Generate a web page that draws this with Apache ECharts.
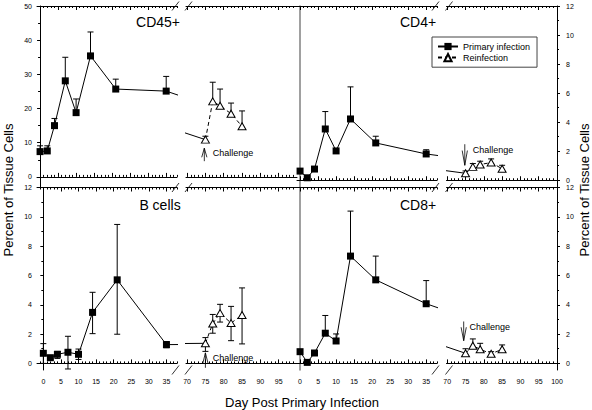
<!DOCTYPE html>
<html>
<head>
<meta charset="utf-8">
<script src="https://cdn.jsdelivr.net/npm/echarts@6/dist/echarts.min.js"></script>
<style>
html,body{margin:0;padding:0;background:#fff;}
#chart{width:592px;height:410px;}
</style>
</head>
<body>
<div id="chart"></div>
<script>
const FONT = 'Liberation Sans, Arial, Helvetica, sans-serif';

// ---------------- DATA ----------------
const panelTitles = ['CD45+', 'CD4+', 'B cells', 'CD8+'];
const seriesNames = ['Primary infection', 'Reinfection'];
const challengeLabel = 'Challenge';
const xTitle = 'Day Post Primary Infection';
const yTitle = 'Percent of Tissue Cells';

const primaryDays = [0, 2, 4, 7, 10, 14, 21, 35];
const reinfectionDays = [75, 77, 79, 82, 85];

// CD45+
const cd45PrimaryMean  = [7.4, 7.6, 15.0, 28.1, 18.8, 35.4, 25.7, 25.1];
const cd45PrimaryUpper = [9.1, 9.1, 17.1, 35.0, 22.8, 42.4, 28.6, 29.4];
const cd45ReinfMean    = [10.9, 22.1, 20.8, 18.5, 14.8];
const cd45ReinfUpper   = [11.9, 27.7, 25.7, 21.6, 19.3];
// CD4+
const cd4PrimaryMean  = [0.63, 0.17, 0.77, 3.53, 2.02, 4.22, 2.57, 1.81];
const cd4PrimaryUpper = [0.63, 0.17, 0.77, 4.73, 2.02, 6.43, 3.03, 2.10];
const cd4ReinfMean    = [0.48, 0.92, 1.08, 1.22, 0.79];
const cd4ReinfUpper   = [0.64, 1.15, 1.31, 1.47, 1.03];
// B cells
const bPrimaryMean  = [0.69, 0.39, 0.62, 0.76, 0.62, 3.48, 5.70, 1.28];
const bPrimaryUpper = [1.35, 0.49, 0.82, 1.85, 0.98, 4.85, 9.48, 1.49];
const bPrimaryLower = [0.00, 0.29, 0.34, -0.38, 0.27, 2.03, 1.99, 1.07];
const bReinfMean    = [1.37, 2.72, 3.43, 2.75, 3.30];
const bReinfUpper   = [1.76, 3.34, 4.03, 3.89, 5.15];
const bReinfLower   = [0.82, 2.06, 2.82, 1.55, 1.33];
// CD8+
const cd8PrimaryMean  = [0.80, 0.07, 0.71, 2.06, 1.53, 7.32, 5.70, 4.07];
const cd8PrimaryUpper = [0.80, 0.07, 0.71, 3.27, 2.01, 10.39, 7.32, 5.65];
const cd8ReinfMean    = [0.69, 1.21, 0.96, 0.66, 0.96];
const cd8ReinfUpper   = [1.00, 1.67, 1.37, 0.80, 1.26];

// Challenge arrows: [day, tip value, tail value, label day, label value]
const cd45Challenge = [74.7, 8.4, 4.6, 77.0, 6.9];
const cd4Challenge  = [74.8, 1.03, 2.48, 77.0, 2.07];
const bChallenge    = [75.0, 0.72, -0.30, 77.0, 0.34];
const cd8Challenge  = [74.5, 1.55, 2.86, 76.1, 2.45];

// Tick labels
const xTicksEarly = [0, 5, 10, 15, 20, 25, 30, 35];
const xTicksLateLeft = [70, 75, 80, 85, 90, 95];
const xTicksLateRight = [70, 75, 80, 85, 90, 95, 100];
const yTicksCD45 = [0, 10, 20, 30, 40, 50];
const yMinorCD45 = [5, 15, 25, 35, 45];
const yTicks12 = [0, 2, 4, 6, 8, 10, 12];
const yMinor12 = [1, 3, 5, 7, 9, 11];

// ---------------- LAYOUT ----------------
const ROW_Y = [[6, 187.5], [187.5, 370]];
const COL_X = [
  { seg1: [37, 177], seg2: [186, 297] },
  { seg1: [297, 437], seg2: [446.5, 557] }
];

const panels = [
  { title: panelTitles[0], row: 0, col: 0, r1: [-0.85, 38], r2: [69.7, 100], yr: [-3.1, 50],
    yMaj: yTicksCD45, yMin: yMinorCD45, pM: cd45PrimaryMean, pU: cd45PrimaryUpper, pL: null,
    rM: cd45ReinfMean, rU: cd45ReinfUpper, rL: null, ch: cd45Challenge, tpos: [158, 22] },
  { title: panelTitles[1], row: 0, col: 1, r1: [-0.85, 38], r2: [69.8, 100], yr: [-0.5, 12],
    yMaj: yTicks12, yMin: yMinor12, pM: cd4PrimaryMean, pU: cd4PrimaryUpper, pL: null,
    rM: cd4ReinfMean, rU: cd4ReinfUpper, rL: null, ch: cd4Challenge, tpos: [418, 22] },
  { title: panelTitles[2], row: 1, col: 0, r1: [-1.8, 38], r2: [69.7, 100], yr: [-0.45, 12],
    yMaj: yTicks12, yMin: yMinor12, pM: bPrimaryMean, pU: bPrimaryUpper, pL: bPrimaryLower,
    rM: bReinfMean, rU: bReinfUpper, rL: bReinfLower, ch: bChallenge, tpos: [160, 205] },
  { title: panelTitles[3], row: 1, col: 1, r1: [-0.85, 38], r2: [69.8, 100], yr: [-0.45, 12],
    yMaj: yTicks12, yMin: yMinor12, pM: cd8PrimaryMean, pU: cd8PrimaryUpper, pL: null,
    rM: cd8ReinfMean, rU: cd8ReinfUpper, rL: null, ch: cd8Challenge, tpos: [418, 205] }
];

const CAP = 3;
const grids = [], xAxes = [], yAxes = [], series = [], graphic = [];

function xAxesFor(gi, range, majors, showLabels) {
  const minors = [];
  for (let d = Math.ceil(range[0]); d <= Math.floor(range[1]); d++) if (d % 5 !== 0) minors.push(d);
  const base = { type: 'value', gridIndex: gi, min: range[0], max: range[1], splitLine: { show: false } };
  const line = { show: true, lineStyle: { color: '#000', width: 1 } };
  const tickStyle = { color: '#000', width: 1 };
  return [
    Object.assign({}, base, { position: 'bottom', axisLine: line,
      axisTick: { show: true, inside: true, length: 4, customValues: majors, lineStyle: tickStyle },
      axisLabel: { show: showLabels, customValues: majors, fontSize: 7, fontFamily: FONT, color: '#000', margin: 8 } }),
    Object.assign({}, base, { position: 'bottom', axisLine: { show: false },
      axisTick: { show: true, inside: true, length: 2, customValues: minors, lineStyle: tickStyle },
      axisLabel: { show: false } }),
    Object.assign({}, base, { position: 'top', axisLine: line,
      axisTick: { show: true, inside: true, length: 4, customValues: majors, lineStyle: tickStyle },
      axisLabel: { show: false } }),
    Object.assign({}, base, { position: 'top', axisLine: { show: false },
      axisTick: { show: true, inside: true, length: 2, customValues: minors, lineStyle: tickStyle },
      axisLabel: { show: false } })
  ];
}

function yAxesFor(gi, range, pos, kind, majors, minors, margin) {
  const base = { type: 'value', gridIndex: gi, min: range[0], max: range[1], position: pos, splitLine: { show: false } };
  if (kind === 'main') {
    return [
      Object.assign({}, base, { axisLine: { show: true, lineStyle: { color: '#000', width: 1 } },
        axisTick: { show: true, inside: false, length: 3, customValues: majors, lineStyle: { color: '#000', width: 1 } },
        axisLabel: { show: true, customValues: majors, fontSize: 7, fontFamily: FONT, color: '#000', margin: margin } }),
      Object.assign({}, base, { axisLine: { show: false },
        axisTick: { show: true, inside: false, length: 2, customValues: minors, lineStyle: { color: '#000', width: 1 } },
        axisLabel: { show: false } })
    ];
  }
  if (kind === 'divider') {
    return [
      Object.assign({}, base, { axisLine: { show: true, lineStyle: { color: '#808080', width: 1.5 } },
        axisTick: { show: false }, axisLabel: { show: false } }),
      Object.assign({}, base, { show: false })
    ];
  }
  return [
    Object.assign({}, base, { axisLine: { show: false }, axisTick: { show: false }, axisLabel: { show: false } }),
    Object.assign({}, base, { show: false })
  ];
}

function renderErrorBar(params, api) {
  const x = api.value(0), y = api.value(1), lo = api.value(2), hi = api.value(3);
  const c = api.coord([x, y]);
  const pHi = api.coord([x, hi]);
  const pLo = api.coord([x, lo]);
  const st = { stroke: '#000', lineWidth: 1 };
  const children = [];
  if (hi > y || lo < y) {
    children.push({ type: 'line', shape: { x1: c[0], y1: pHi[1], x2: c[0], y2: pLo[1] }, style: st });
  }
  if (hi > y) children.push({ type: 'line', shape: { x1: c[0] - CAP, y1: pHi[1], x2: c[0] + CAP, y2: pHi[1] }, style: st });
  if (lo < y) children.push({ type: 'line', shape: { x1: c[0] - CAP, y1: pLo[1], x2: c[0] + CAP, y2: pLo[1] }, style: st });
  return { type: 'group', children: children };
}

function renderChallenge(params, api) {
  const x = api.value(0);
  const tip = api.coord([x, api.value(1)]);
  const tail = api.coord([x, api.value(2)]);
  const lab = api.coord([api.value(3), api.value(4)]);
  const len = tail[1] - tip[1];
  const head = len * 0.7;
  const st = { stroke: '#000', lineWidth: 0.8 };
  return {
    type: 'group',
    children: [
      { type: 'line', shape: { x1: tail[0], y1: tail[1], x2: tip[0], y2: tip[1] }, style: st },
      { type: 'line', shape: { x1: tip[0], y1: tip[1], x2: tip[0] - 2.6, y2: tip[1] + head }, style: st },
      { type: 'line', shape: { x1: tip[0], y1: tip[1], x2: tip[0] + 2.6, y2: tip[1] + head }, style: st },
      { type: 'text', x: lab[0], y: lab[1],
        style: { text: challengeLabel, fill: '#000', fontSize: 9, fontFamily: FONT,
                 textAlign: 'left', verticalAlign: 'middle', textVerticalAlign: 'middle' } }
    ]
  };
}

panels.forEach(function (p, pi) {
  const ry = ROW_Y[p.row];
  const cx = COL_X[p.col];
  const g1 = pi * 2, g2 = pi * 2 + 1;
  [[cx.seg1, g1], [cx.seg2, g2]].forEach(function (s) {
    grids[s[1]] = { left: s[0][0], top: ry[0], width: s[0][1] - s[0][0], height: ry[1] - ry[0],
      show: false, containLabel: false, outerBoundsMode: 'none' };
  });
  const showX = p.row === 1;
  const lateTicks = p.col === 0 ? xTicksLateLeft : xTicksLateRight;
  xAxes.push.apply(xAxes, xAxesFor(g1, p.r1, xTicksEarly, showX));
  xAxes.push.apply(xAxes, xAxesFor(g2, p.r2, lateTicks, showX));
  if (p.col === 0) {
    yAxes.push.apply(yAxes, yAxesFor(g1, p.yr, 'left', 'main', p.yMaj, p.yMin, 5));
    yAxes.push.apply(yAxes, yAxesFor(g2, p.yr, 'right', 'hidden'));
  } else {
    yAxes.push.apply(yAxes, yAxesFor(g1, p.yr, 'left', 'divider'));
    yAxes.push.apply(yAxes, yAxesFor(g2, p.yr, 'right', 'main', p.yMaj, p.yMin, 9));
  }
  const x1 = g1 * 4, x2 = g2 * 4, y1 = g1 * 2, y2 = g2 * 2;

  // primary line data continues to the challenge point (drawn through the break)
  const primLine = primaryDays.map(function (d, i) { return [d, p.pM[i]]; });
  primLine.push({ value: [reinfectionDays[0], p.rM[0]], symbol: 'none' });
  const primErr = primaryDays.map(function (d, i) {
    return [d, p.pM[i], p.pL ? p.pL[i] : p.pM[i], p.pU[i]];
  });
  const reLine = reinfectionDays.map(function (d, i) { return [d, p.rM[i]]; });
  const reErr = reinfectionDays.map(function (d, i) {
    return [d, p.rM[i], p.rL ? p.rL[i] : p.rM[i], p.rU[i]];
  });

  series.push({ type: 'custom', xAxisIndex: x1, yAxisIndex: y1, z: 1, renderItem: renderErrorBar,
    encode: { x: 0, y: 1 }, data: primErr, silent: true });
  series.push({ type: 'line', name: seriesNames[0], xAxisIndex: x1, yAxisIndex: y1, z: 3, data: primLine,
    symbol: 'rect', symbolSize: 7, itemStyle: { color: '#000' }, lineStyle: { color: '#000', width: 1 },
    clip: true, silent: true });
  series.push({ type: 'line', name: seriesNames[0], xAxisIndex: x2, yAxisIndex: y2, z: 3, data: primLine,
    showSymbol: false, symbol: 'rect', symbolSize: 7, itemStyle: { color: '#000' },
    lineStyle: { color: '#000', width: 1 }, clip: true, silent: true });
  series.push({ type: 'custom', xAxisIndex: x2, yAxisIndex: y2, z: 1, renderItem: renderErrorBar,
    encode: { x: 0, y: 1 }, data: reErr, silent: true });
  series.push({ type: 'line', name: seriesNames[1], xAxisIndex: x2, yAxisIndex: y2, z: 4, data: reLine,
    symbol: 'triangle', symbolSize: [8, 7],
    itemStyle: { color: '#fff', borderColor: '#000', borderWidth: 1 },
    lineStyle: { color: '#000', width: 1, type: [4, 3] }, clip: true, silent: true });
  series.push({ type: 'custom', xAxisIndex: x2, yAxisIndex: y2, z: 2, renderItem: renderChallenge,
    encode: { x: 0, y: 1 }, data: [p.ch], silent: true, clip: false });

  graphic.push({ type: 'text', x: p.tpos[0], y: p.tpos[1], silent: true,
    style: { text: p.title, fill: '#000', fontSize: 14, fontFamily: FONT, textAlign: 'center',
             verticalAlign: 'middle', textVerticalAlign: 'middle' } });
});

// axis break slashes on every horizontal edge
[6, 187.5, 370].forEach(function (y) {
  COL_X.forEach(function (c) {
    [c.seg1[1] - 1.5, c.seg2[0] + 2.5].forEach(function (x) {
      graphic.push({ type: 'line', silent: true,
        shape: { x1: x - 3.5, y1: y + 4.5, x2: x + 3.5, y2: y - 4.5 },
        style: { stroke: '#000', lineWidth: 0.8 } });
    });
  });
});

graphic.push({ type: 'text', x: 302, y: 402, silent: true,
  style: { text: xTitle, fill: '#000', fontSize: 13, fontFamily: FONT, textAlign: 'center',
           verticalAlign: 'middle', textVerticalAlign: 'middle' } });
graphic.push({ type: 'text', x: 8, y: 190, rotation: Math.PI / 2, silent: true,
  style: { text: yTitle, fill: '#000', fontSize: 13, fontFamily: FONT, textAlign: 'center',
           verticalAlign: 'middle', textVerticalAlign: 'middle' } });
graphic.push({ type: 'text', x: 584, y: 190, rotation: Math.PI / 2, silent: true,
  style: { text: yTitle, fill: '#000', fontSize: 13, fontFamily: FONT, textAlign: 'center',
           verticalAlign: 'middle', textVerticalAlign: 'middle' } });

const option = {
  animation: false,
  backgroundColor: '#fff',
  grid: grids,
  xAxis: xAxes,
  yAxis: yAxes,
  series: series,
  graphic: graphic,
  legend: {
    data: seriesNames,
    orient: 'vertical',
    left: 432, top: 37,
    padding: [5, 7, 5, 5],
    itemGap: 2,
    itemWidth: 20, itemHeight: 9,
    borderColor: '#444', borderWidth: 1, borderRadius: 0,
    backgroundColor: '#fff',
    selectedMode: false,
    textStyle: { fontSize: 9, fontFamily: FONT, color: '#000' }
  }
};

const chart = echarts.init(document.getElementById('chart'), null, { renderer: 'svg' });
chart.setOption(option);
</script>
</body>
</html>
